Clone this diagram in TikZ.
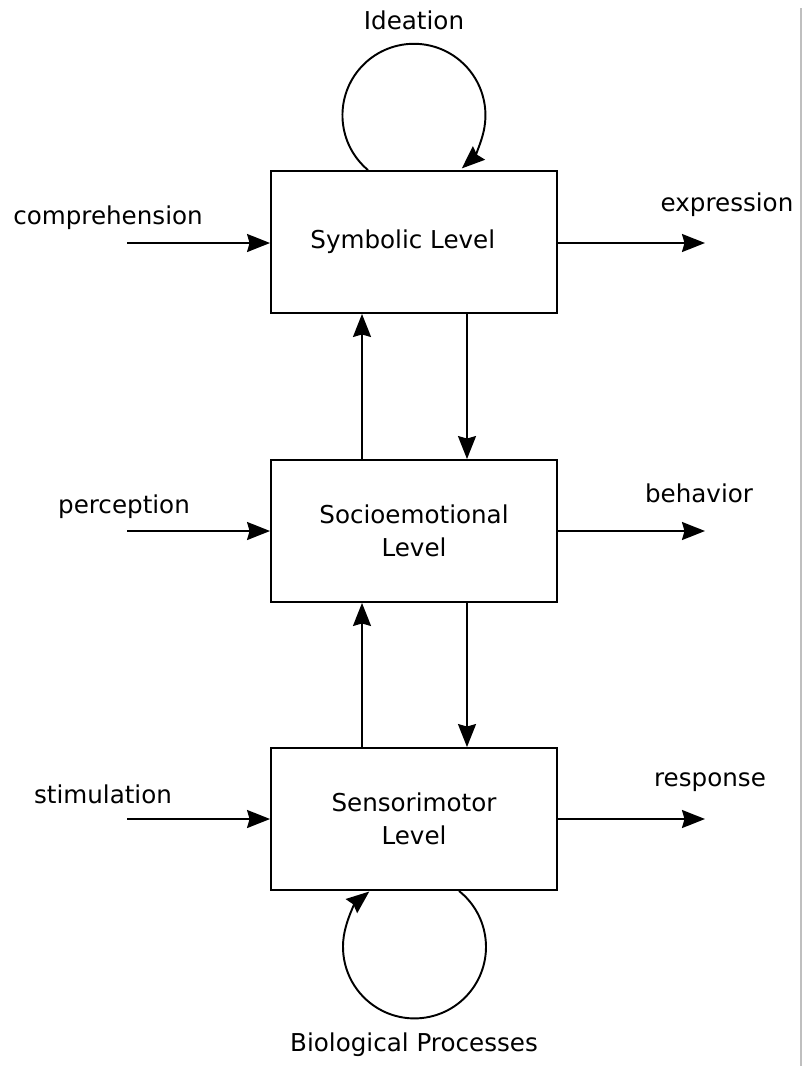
\documentclass[tikz,border=0pt]{standalone}
\usepackage{fontspec}
\setmainfont{DejaVu Sans}
\usetikzlibrary{arrows.meta}

\tikzset{
	level/.style={draw, line width=1.1pt, minimum width=5.72cm, minimum height=2.84cm, align=center},
	arr/.style={line width=1.1pt, -{Stealth[length=0.46cm, width=0.36cm, inset=0.05cm]}},
	lbl/.style={inner sep=0pt}
}

\begin{document}
\begin{tikzpicture}[x=0.02cm, y=-0.02cm, font=\fontsize{14}{19}\selectfont]
\useasboundingbox (0,0) rectangle (804,1066);
\draw[gray!50, line width=1.5pt] (801,8) -- (801,1066);

\node[level] (sym) at (414,242) {Symbolic Level\hspace*{0.45cm}};
\node[level] (soc) at (414,531) {Socioemotional\\Level};
\node[level] (sen) at (414,819) {Sensorimotor\\Level};

\coordinate (up) at (362,0);
\coordinate (down) at (467,0);

% inputs
\node[lbl] (comp) at (108,218) {comprehension};
\node[lbl] (perc) at (124,507) {perception};
\node[lbl] (stim) at (103,794) {stimulation};
\coordinate (in1) at (127,243);
\coordinate (in2) at (127,531);
\coordinate (in3) at (127,819);
\draw[arr] (in1) -- (sym.west |- in1);
\draw[arr] (in2) -- (soc.west |- in2);
\draw[arr] (in3) -- (sen.west |- in3);

% outputs
\node[lbl] (expr) at (727,205) {expression};
\node[lbl] (beha) at (699,493) {behavior};
\node[lbl] (resp) at (710,782) {response};
\coordinate (out1) at (705,243);
\coordinate (out2) at (705,531);
\coordinate (out3) at (705,819);
\draw[arr] (sym.east |- out1) -- (out1);
\draw[arr] (soc.east |- out2) -- (out2);
\draw[arr] (sen.east |- out3) -- (out3);

% between levels
\draw[arr] (soc.north -| up) -- (sym.south -| up);
\draw[arr] (sym.south -| down) -- (soc.north -| down);
\draw[arr] (sen.north -| up) -- (soc.south -| up);
\draw[arr] (soc.south -| down) -- (sen.north -| down);

% loops
\node[lbl] (idea) at (414,20) {Ideation};
\draw[arr] (sym.north -| 368,0) arc[start angle=130, end angle=408, radius=71.5];
\node[lbl] (bio) at (414,1045) {Biological Processes};
\draw[arr] (sen.south -| 459,0) arc[start angle=-51.5, end angle=230.8, radius=71.5];
\end{tikzpicture}
\end{document}
